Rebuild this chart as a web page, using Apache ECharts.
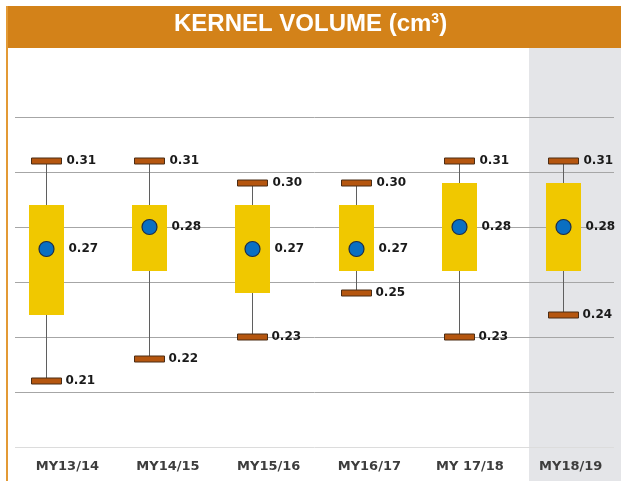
<!DOCTYPE html>
<html>
<head>
<meta charset="utf-8">
<script src="https://cdn.jsdelivr.net/npm/echarts@6/dist/echarts.min.js"></script>
<style>
html,body{margin:0;padding:0;background:#fff;}
#main{width:621px;height:481px;}
</style>
</head>
<body>
<div id="main"></div>
<script>
var categories = ['MY13/14', 'MY14/15', 'MY15/16', 'MY16/17', 'MY 17/18', 'MY18/19'];
var minVals  = [0.21, 0.22, 0.23, 0.25, 0.23, 0.24];
var q1Vals   = [0.24, 0.26, 0.25, 0.26, 0.26, 0.26];
var q3Vals   = [0.29, 0.29, 0.29, 0.29, 0.30, 0.30];
var maxVals  = [0.31, 0.31, 0.30, 0.30, 0.31, 0.31];
var meanVals = [0.27, 0.28, 0.27, 0.27, 0.28, 0.28];
var yTicks = { min: 0.18, max: 0.33, interval: 0.025 };

var data = categories.map(function (c, i) {
  return [i, minVals[i], q1Vals[i], q3Vals[i], maxVals[i], meanVals[i]];
});

var labelFont = 'bold 12px "DejaVu Sans"';

function renderItem(params, api) {
  var x = api.value(0);
  var pMin = api.coord([x, api.value(1)]);
  var pQ1 = api.coord([x, api.value(2)]);
  var pQ3 = api.coord([x, api.value(3)]);
  var pMax = api.coord([x, api.value(4)]);
  var pMean = api.coord([x, api.value(5)]);
  var cx = Math.round(pMin[0]) + 0.5;
  var boxW = 35, capW = 30, capH = 6;
  function fmt(v) { return v.toFixed(2); }
  return {
    type: 'group',
    children: [
      { type: 'line', shape: { x1: cx, y1: pMax[1], x2: cx, y2: pMin[1] },
        style: { stroke: '#5f5f5f', lineWidth: 1 } },
      { type: 'rect', shape: { x: cx - boxW / 2, y: pQ3[1], width: boxW, height: pQ1[1] - pQ3[1] },
        style: { fill: '#f0c800' } },
      { type: 'rect', shape: { x: cx - capW / 2, y: pMax[1] - capH / 2, width: capW, height: capH },
        style: { fill: '#b5560f', stroke: '#4a2c14', lineWidth: 1 } },
      { type: 'rect', shape: { x: cx - capW / 2, y: pMin[1] - capH / 2, width: capW, height: capH },
        style: { fill: '#b5560f', stroke: '#4a2c14', lineWidth: 1 } },
      { type: 'circle', shape: { cx: cx, cy: pMean[1], r: 7.5 },
        style: { fill: '#0a6fc2', stroke: '#1b2e4a', lineWidth: 1.2 } },
      { type: 'text', style: { x: cx + capW / 2 + 5, y: pMax[1], text: fmt(api.value(4)),
        font: labelFont, fill: '#1a1a1a', verticalAlign: 'middle', align: 'left' } },
      { type: 'text', style: { x: cx + capW / 2 + 4, y: pMin[1], text: fmt(api.value(1)),
        font: labelFont, fill: '#1a1a1a', verticalAlign: 'middle', align: 'left' } },
      { type: 'text', style: { x: cx + 22, y: pMean[1], text: fmt(api.value(5)),
        font: labelFont, fill: '#1a1a1a', verticalAlign: 'middle', align: 'left' } }
    ]
  };
}

var chart = echarts.init(document.getElementById('main'), null, { renderer: 'canvas' });
chart.setOption({
  backgroundColor: '#ffffff',
  animation: false,
  graphic: [
    { type: 'rect', z: -10, shape: { x: 529, y: 48, width: 92, height: 433 }, style: { fill: '#e4e5e8' } },
    { type: 'rect', z: 10, shape: { x: 7, y: 6, width: 614, height: 42 }, style: { fill: '#d38219' } },
    { type: 'rect', z: 10, shape: { x: 6, y: 6, width: 2, height: 475 }, style: { fill: '#e39a35' } },
    { type: 'text', z: 11, left: 174, top: 12,
      style: {
        text: 'KERNEL VOLUME (cm{sup|3})',
        fill: '#ffffff',
        font: 'bold 24px "Liberation Sans"',
        rich: { sup: { fontSize: 14, fontWeight: 'bold', fontFamily: 'Liberation Sans', fill: '#ffffff', verticalAlign: 'top', padding: [0, 0, 10, 0] } }
      } }
  ],
  grid: [
    { left: 15, right: 7, top: 117, bottom: 34 },
    { left: 17, width: 612, top: 440, height: 7 }
  ],
  xAxis: [
    { type: 'value', gridIndex: 0, min: -0.295, max: 5.498, show: false },
    { type: 'category', gridIndex: 1, data: categories, boundaryGap: true,
      axisLine: { show: false }, axisTick: { show: false }, splitLine: { show: false },
      axisLabel: { margin: 13, color: '#3d3d3d', fontSize: 13, fontWeight: 'bold', fontFamily: 'DejaVu Sans', interval: 0 } }
  ],
  yAxis: [
    { type: 'value', gridIndex: 0, min: yTicks.min, max: yTicks.max, interval: yTicks.interval,
      axisLabel: { show: false }, axisLine: { show: false }, axisTick: { show: false },
      splitLine: { show: true, lineStyle: { color: ['#dcdcdc', '#a6a6a6', '#a6a6a6', '#a6a6a6', '#a6a6a6', '#a6a6a6', '#a6a6a6'], width: 1 } } },
    { type: 'value', gridIndex: 1, show: false }
  ],
  series: [
    { type: 'custom', xAxisIndex: 0, yAxisIndex: 0, renderItem: renderItem, data: data,
      encode: { x: 0, y: [1, 2, 3, 4, 5] }, clip: false }
  ]
});
</script>
</body>
</html>
